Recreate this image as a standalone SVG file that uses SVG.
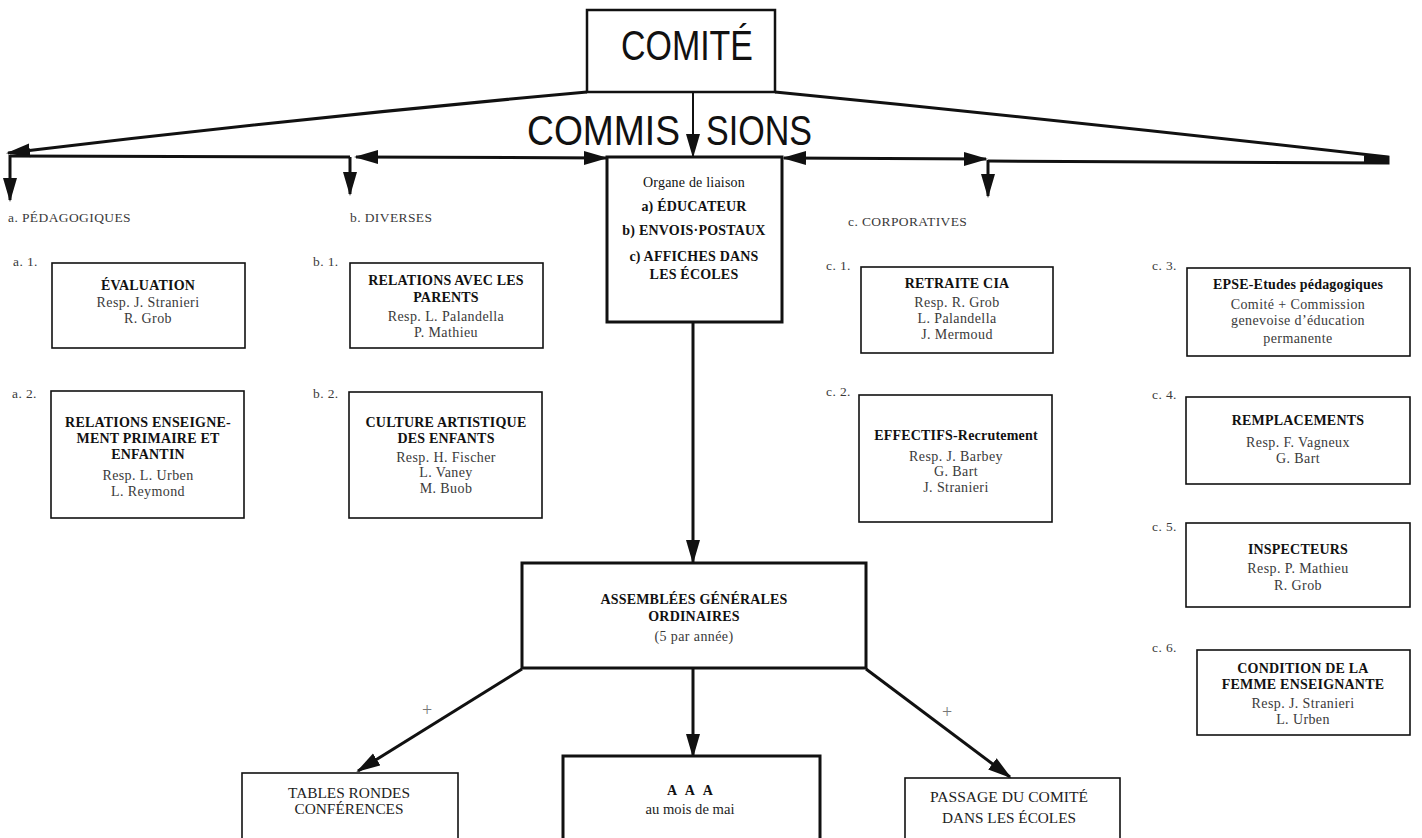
<svg xmlns="http://www.w3.org/2000/svg" width="1422" height="838" viewBox="0 0 1422 838">
<style>
.bx{fill:#fff;stroke:#111;stroke-width:1.6}
.bxt{fill:#fff;stroke:#111;stroke-width:3}
.ln{fill:none;stroke:#111;stroke-width:3}
.t{font-family:"Liberation Serif","DejaVu Serif",serif;font-size:14px;letter-spacing:0.4px;fill:#3a3a3a;text-anchor:middle}
.b{font-family:"Liberation Serif","DejaVu Serif",serif;font-size:14px;letter-spacing:0.2px;font-weight:bold;fill:#111;text-anchor:middle}
.lab{font-family:"Liberation Serif","DejaVu Serif",serif;font-size:13.5px;letter-spacing:0.4px;fill:#3a3a3a}
.plus{font-family:"Liberation Serif","DejaVu Serif",serif;font-size:18px;fill:#777;text-anchor:middle}
.big{font-family:"Liberation Sans","DejaVu Sans",sans-serif;font-size:43px;fill:#111}
.cn{font-family:"Liberation Serif","DejaVu Serif",serif;font-size:14px;fill:#222;text-anchor:middle}
</style>
<defs>
<marker id="ah" markerUnits="userSpaceOnUse" markerWidth="24" markerHeight="16" refX="22" refY="8" orient="auto-start-reverse" viewBox="0 0 24 16">
<path d="M0,1 L24,8 L0,15 Z" fill="#111"/>
</marker>
</defs>
<rect width="1422" height="838" fill="#fff"/>
<g id="comite">
<rect class="bx" x="587" y="10" width="188" height="82" style="stroke-width:2.5"/>
<text class="big" x="621" y="60" textLength="132" lengthAdjust="spacingAndGlyphs">COMITÉ</text>
</g>
<g id="commissions-label">
<text class="big" x="527" y="145" textLength="153" lengthAdjust="spacingAndGlyphs">COMMIS</text>
<text class="big" x="706" y="145" textLength="106" lengthAdjust="spacingAndGlyphs">SIONS</text>
</g>
<g id="connectors">
<path class="ln" d="M587,92 Q300,118 8,153" marker-end="url(#ah)"/>
<path class="ln" d="M10,156 L350,157"/>
<path class="ln" d="M10,155 L10,200" marker-end="url(#ah)"/>
<path class="ln" d="M350,157 L350,194" marker-end="url(#ah)"/>
<path class="ln" d="M356,157 L606,158" marker-start="url(#ah)" marker-end="url(#ah)"/>
<path class="ln" d="M693,92 L693,156" marker-end="url(#ah)" style="stroke-width:2"/>
<path class="ln" d="M784,158 L986,159" marker-start="url(#ah)" marker-end="url(#ah)"/>
<path class="ln" d="M775,92 Q1080,122 1388,157 L1388,163 L988,161"/>
<path d="M1364,155.5 L1389,156 L1389,164 L1364,162.5 Z" fill="#111"/>
<path class="ln" d="M988,160 L988,196" marker-end="url(#ah)"/>
<path class="ln" d="M693,322 L693,562" marker-end="url(#ah)"/>
<path class="ln" d="M522,669 L358,771" marker-end="url(#ah)"/>
<path class="ln" d="M693,668 L693,756" marker-end="url(#ah)"/>
<path class="ln" d="M866,669 L1010,777" marker-end="url(#ah)"/>
<text class="plus" x="427" y="716">+</text>
<text class="plus" x="947" y="718">+</text>
</g>
<g id="section-labels">
<text class="lab" x="8" y="222">a. PÉDAGOGIQUES</text>
<text class="lab" x="350" y="222">b. DIVERSES</text>
<text class="lab" x="848" y="226">c. CORPORATIVES</text>
</g>
<g id="organe">
<rect class="bxt" x="607" y="157" width="175" height="165"/>
<text class="b" x="694" y="187" style="font-weight:normal;fill:#111">Organe de liaison</text>
<text class="b" x="694" y="211">a) ÉDUCATEUR</text>
<text class="b" x="694" y="235">b) ENVOIS·POSTAUX</text>
<text class="b" x="694" y="261">c) AFFICHES DANS</text>
<text class="b" x="694" y="279">LES ÉCOLES</text>
</g>
<g id="a1">
<text class="lab" x="13" y="266">a. 1.</text>
<rect class="bx" x="52" y="263" width="193" height="85"/>
<text class="b" x="148" y="290">ÉVALUATION</text>
<text class="t" x="148" y="307">Resp. J. Stranieri</text>
<text class="t" x="148" y="323">R. Grob</text>
</g>
<g id="a2">
<text class="lab" x="12" y="398">a. 2.</text>
<rect class="bx" x="51" y="391" width="193" height="127"/>
<text class="b" x="148" y="427">RELATIONS ENSEIGNE-</text>
<text class="b" x="148" y="443">MENT PRIMAIRE ET</text>
<text class="b" x="148" y="459">ENFANTIN</text>
<text class="t" x="148" y="480">Resp. L. Urben</text>
<text class="t" x="148" y="496">L. Reymond</text>
</g>
<g id="b1">
<text class="lab" x="313" y="266">b. 1.</text>
<rect class="bx" x="350" y="263" width="193" height="85"/>
<text class="b" x="446" y="285">RELATIONS AVEC LES</text>
<text class="b" x="446" y="302">PARENTS</text>
<text class="t" x="446" y="321">Resp. L. Palandella</text>
<text class="t" x="446" y="337">P. Mathieu</text>
</g>
<g id="b2">
<text class="lab" x="313" y="398">b. 2.</text>
<rect class="bx" x="349" y="392" width="193" height="126"/>
<text class="b" x="446" y="427">CULTURE ARTISTIQUE</text>
<text class="b" x="446" y="443">DES ENFANTS</text>
<text class="t" x="446" y="462">Resp. H. Fischer</text>
<text class="t" x="446" y="477">L. Vaney</text>
<text class="t" x="446" y="493">M. Buob</text>
</g>
<g id="c1">
<text class="lab" x="826" y="270">c. 1.</text>
<rect class="bx" x="861" y="267" width="192" height="86"/>
<text class="b" x="957" y="288">RETRAITE CIA</text>
<text class="t" x="957" y="307">Resp. R. Grob</text>
<text class="t" x="957" y="323">L. Palandella</text>
<text class="t" x="957" y="339">J. Mermoud</text>
</g>
<g id="c2">
<text class="lab" x="826" y="396">c. 2.</text>
<rect class="bx" x="859" y="395" width="193" height="127"/>
<text class="b" x="956" y="440">EFFECTIFS-Recrutement</text>
<text class="t" x="956" y="461">Resp. J. Barbey</text>
<text class="t" x="956" y="476">G. Bart</text>
<text class="t" x="956" y="492">J. Stranieri</text>
</g>
<g id="c3">
<text class="lab" x="1152" y="270">c. 3.</text>
<rect class="bx" x="1187" y="268" width="223" height="88"/>
<text class="b" x="1298" y="289">EPSE-Etudes pédagogiques</text>
<text class="t" x="1298" y="309">Comité + Commission</text>
<text class="t" x="1298" y="325">genevoise d’éducation</text>
<text class="t" x="1298" y="343">permanente</text>
</g>
<g id="c4">
<text class="lab" x="1152" y="399">c. 4.</text>
<rect class="bx" x="1186" y="397" width="224" height="87"/>
<text class="b" x="1298" y="425">REMPLACEMENTS</text>
<text class="t" x="1298" y="447">Resp. F. Vagneux</text>
<text class="t" x="1298" y="463">G. Bart</text>
</g>
<g id="c5">
<text class="lab" x="1152" y="531">c. 5.</text>
<rect class="bx" x="1186" y="523" width="224" height="84"/>
<text class="b" x="1298" y="554">INSPECTEURS</text>
<text class="t" x="1298" y="573">Resp. P. Mathieu</text>
<text class="t" x="1298" y="590">R. Grob</text>
</g>
<g id="c6">
<text class="lab" x="1152" y="652">c. 6.</text>
<rect class="bx" x="1197" y="650" width="213" height="85"/>
<text class="b" x="1303" y="673">CONDITION DE LA</text>
<text class="b" x="1303" y="689">FEMME ENSEIGNANTE</text>
<text class="t" x="1303" y="708">Resp. J. Stranieri</text>
<text class="t" x="1303" y="724">L. Urben</text>
</g>
<g id="assemblees">
<rect class="bxt" x="522" y="563" width="344" height="105"/>
<text class="b" x="694" y="604">ASSEMBLÉES GÉNÉRALES</text>
<text class="b" x="694" y="621">ORDINAIRES</text>
<text class="t" x="694" y="641">(5 par année)</text>
</g>
<g id="tables">
<rect class="bx" x="242" y="773" width="216" height="70"/>
<text class="cn" x="349" y="798" textLength="122" lengthAdjust="spacingAndGlyphs">TABLES RONDES</text>
<text class="cn" x="349" y="814" textLength="109" lengthAdjust="spacingAndGlyphs">CONFÉRENCES</text>
</g>
<g id="aaa">
<rect class="bxt" x="563" y="756" width="257" height="86"/>
<text class="b" x="690" y="795" textLength="46" lengthAdjust="spacing">A A A</text>
<text class="cn" x="690" y="814" textLength="89" lengthAdjust="spacingAndGlyphs">au mois de mai</text>
</g>
<g id="passage">
<rect class="bx" x="905" y="778" width="215" height="64"/>
<text class="cn" x="1009" y="802" textLength="158" lengthAdjust="spacingAndGlyphs">PASSAGE DU COMITÉ</text>
<text class="cn" x="1009" y="823" textLength="134" lengthAdjust="spacingAndGlyphs">DANS LES ÉCOLES</text>
</g>
</svg>
